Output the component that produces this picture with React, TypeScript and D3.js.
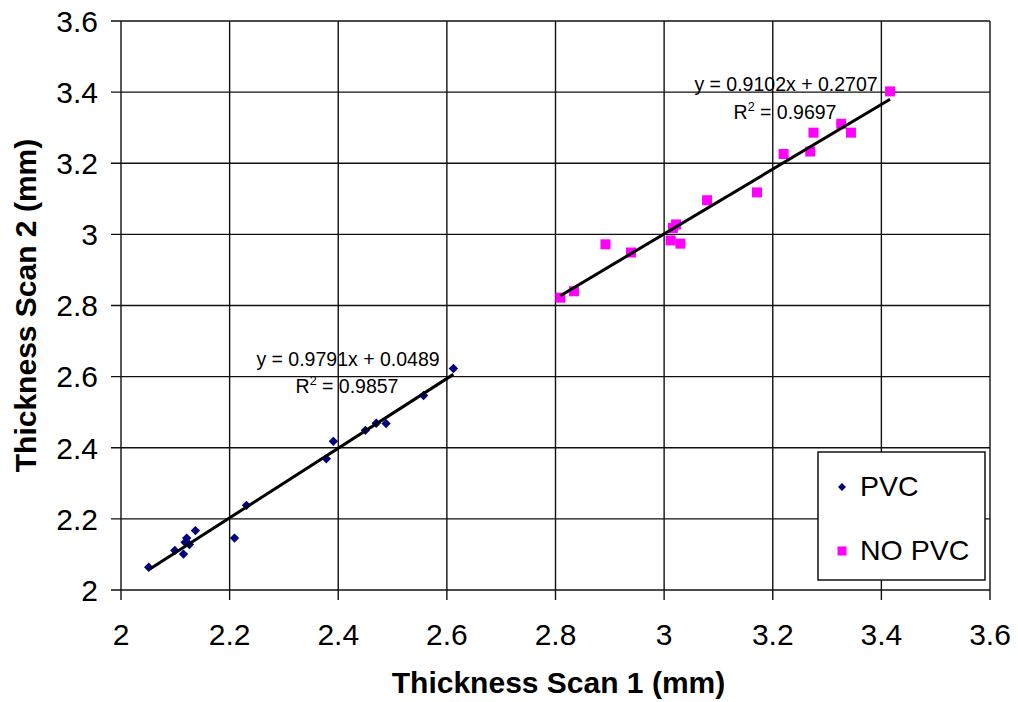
import React from "react";
import * as d3 from "d3";

// PVC samples: thickness from scan 1 and scan 2 (mm)
const pvcScan1 = [2.051, 2.099, 2.115, 2.118, 2.121, 2.126, 2.137, 2.209, 2.231, 2.378, 2.391, 2.45, 2.47, 2.488, 2.557, 2.612];
const pvcScan2 = [2.064, 2.111, 2.101, 2.134, 2.146, 2.128, 2.167, 2.146, 2.238, 2.369, 2.418, 2.449, 2.469, 2.468, 2.547, 2.623];

// NO PVC samples
const noPvcScan1 = [2.809, 2.834, 2.892, 2.939, 3.012, 3.016, 3.022, 3.03, 3.079, 3.171, 3.22, 3.269, 3.275, 3.326, 3.344, 3.416];
const noPvcScan2 = [2.822, 2.84, 2.972, 2.949, 2.983, 3.018, 3.028, 2.974, 3.096, 3.118, 3.226, 3.233, 3.286, 3.311, 3.286, 3.402];

// Linear trend line coefficients (slope, intercept, R²)
const pvcFit = { slope: 0.9791, intercept: 0.0489, r2: 0.9857 };
const noPvcFit = { slope: 0.9102, intercept: 0.2707, r2: 0.9697 };

const tickValues = [2, 2.2, 2.4, 2.6, 2.8, 3, 3.2, 3.4, 3.6];
const seriesNames = ["PVC", "NO PVC"];

const W = 1018;
const H = 702;
const FONT = "'Liberation Sans', Arial, Helvetica, sans-serif";

export default function App() {
  const left = 121;
  const right = 990;
  const top = 21;
  const bottom = 590;

  const x = d3.scaleLinear().domain([2, 3.6]).range([left, right]);
  const y = d3.scaleLinear().domain([2, 3.6]).range([bottom, top]);

  const pvcPts = pvcScan1.map((v, i) => [v, pvcScan2[i]] as [number, number]);
  const noPvcPts = noPvcScan1.map((v, i) => [v, noPvcScan2[i]] as [number, number]);

  const line = d3
    .line<[number, number]>()
    .x((d) => x(d[0]))
    .y((d) => y(d[1]));

  const fitLine = (xs: number[], fit: { slope: number; intercept: number }) => {
    const [x0, x1] = d3.extent(xs) as [number, number];
    return line([
      [x0, fit.slope * x0 + fit.intercept],
      [x1, fit.slope * x1 + fit.intercept],
    ]) as string;
  };

  const diamond = d3.symbol().type(d3.symbolDiamond2).size(56)() as string;
  const square = (s: number) => `M${-s / 2},${-s / 2}h${s}v${s}h${-s}Z`;

  const eq = (f: { slope: number; intercept: number }) =>
    `y = ${f.slope.toFixed(4)}x + ${f.intercept.toFixed(4)}`;

  const legX = 818;
  const legY = 452;

  return (
    <svg
      width={W}
      height={H}
      style={{ position: "absolute", left: 0, top: 0, background: "#fff" }}
      fontFamily={FONT}
    >
      <rect x={0} y={0} width={W} height={H} fill="#fff" />

      {/* grid */}
      <g stroke="#111" strokeWidth={1.4}>
        {tickValues.map((t) => (
          <line key={"vx" + t} x1={x(t)} x2={x(t)} y1={top} y2={bottom + 10} />
        ))}
        {tickValues.map((t) => (
          <line key={"hy" + t} x1={left - 10} x2={right} y1={y(t)} y2={y(t)} />
        ))}
      </g>

      {/* tick labels */}
      <g fontSize={30} fill="#000">
        {tickValues.map((t) => (
          <text key={"ly" + t} x={98} y={y(t)} dy="0.36em" textAnchor="end">
            {d3.format("~g")(t)}
          </text>
        ))}
        {tickValues.map((t) => (
          <text key={"lx" + t} x={x(t)} y={645} textAnchor="middle">
            {d3.format("~g")(t)}
          </text>
        ))}
      </g>

      {/* axis titles */}
      <text x={(left + right) / 2 + 3} y={693} textAnchor="middle" fontSize={30} fontWeight="bold">
        Thickness Scan 1 (mm)
      </text>
      <text
        transform={`translate(36,${(top + bottom) / 2}) rotate(-90)`}
        textAnchor="middle"
        fontSize={30}
        fontWeight="bold"
      >
        Thickness Scan 2 (mm)
      </text>

      {/* markers */}
      <g fill="#000080">
        {pvcPts.map((p, i) => (
          <path key={"p" + i} d={diamond} transform={`translate(${x(p[0])},${y(p[1])})`} />
        ))}
      </g>
      <g fill="#ff00ff">
        {noPvcPts.map((p, i) => (
          <path key={"n" + i} d={square(10)} transform={`translate(${x(p[0])},${y(p[1])})`} />
        ))}
      </g>

      {/* trend lines */}
      <path d={fitLine(pvcScan1, pvcFit)} stroke="#000" strokeWidth={3} fill="none" />
      <path d={fitLine(noPvcScan1, noPvcFit)} stroke="#000" strokeWidth={3} fill="none" />

      {/* trend line equations */}
      <g fontSize={19.5} fill="#000" textAnchor="middle">
        <text x={348} y={366}>{eq(pvcFit)}</text>
        <text x={347} y={393}>
          R<tspan dy={-8} fontSize={12.5}>2</tspan>
          <tspan dy={8}>{` = ${pvcFit.r2.toFixed(4)}`}</tspan>
        </text>
        <text x={786} y={91}>{eq(noPvcFit)}</text>
        <text x={785} y={119}>
          R<tspan dy={-8} fontSize={12.5}>2</tspan>
          <tspan dy={8}>{` = ${noPvcFit.r2.toFixed(4)}`}</tspan>
        </text>
      </g>

      {/* legend */}
      <rect x={legX} y={legY} width={167} height={128} fill="#fff" stroke="#111" strokeWidth={1.5} />
      <path d={d3.symbol().type(d3.symbolDiamond2).size(40)() as string} fill="#000080" transform={`translate(842,487)`} />
      <text x={860} y={496} fontSize={28.5}>{seriesNames[0]}</text>
      <path d={square(9)} fill="#ff00ff" transform={`translate(842,551)`} />
      <text x={860} y={560} fontSize={28.5}>{seriesNames[1]}</text>
    </svg>
  );
}
